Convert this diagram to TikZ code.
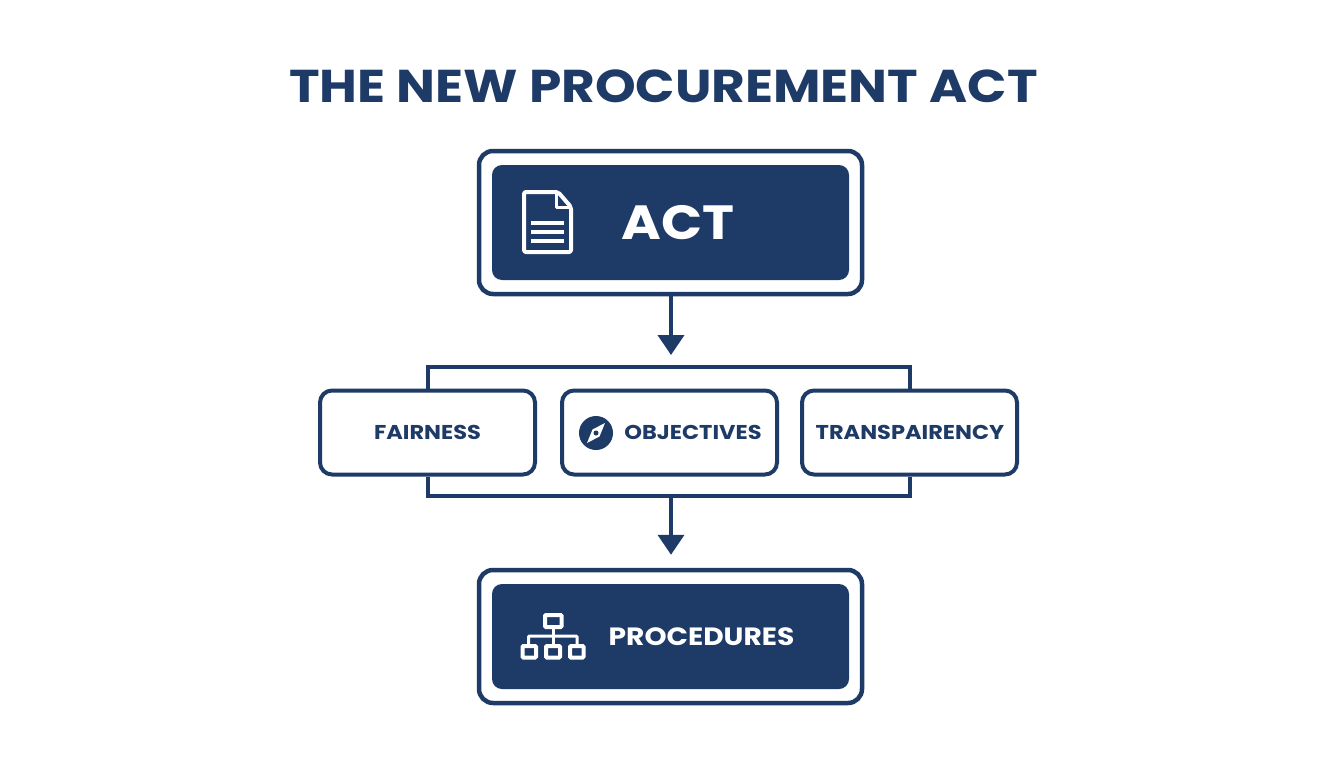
\documentclass[tikz,border=0pt]{standalone}
\usepackage{fontspec}
\setmainfont[FakeStretch=1.125]{Poppins}
\usetikzlibrary{arrows.meta}
\definecolor{navy}{HTML}{1E3A66}
\tikzset{
  x=1pt,y=-1pt,
  framebox/.style={draw=navy,line width=4.5pt,rounded corners=14pt,fill=white,inner sep=0pt},
  solidbox/.style={fill=navy,rounded corners=10pt,inner sep=0pt},
  midbox/.style={draw=navy,line width=4pt,rounded corners=12pt,fill=white,inner sep=0pt,minimum width=215pt,minimum height=84pt},
  midlabel/.style={text=navy,font=\fontsize{20}{24}\selectfont\bfseries,inner sep=0pt},
  wire/.style={draw=navy,line width=4pt},
  flow/.style={wire,-{Triangle[width=26pt,length=20pt]}},
  iconline/.style={draw=white,line width=4pt},
}
\begin{document}
\begin{tikzpicture}
\useasboundingbox (0,0) rectangle (1344,768);
\fill[white] (0,0) rectangle (1344,768);
\node[text=navy,font=\fontsize{46}{50}\selectfont\bfseries,inner sep=0pt] (title) at (663.5,86) {THE NEW PROCUREMENT ACT};
% top
\node[framebox,minimum width=383pt,minimum height=143pt] (actouter) at (670.5,222.5) {};
\node[solidbox,minimum width=357pt,minimum height=115pt] (actinner) at (670.5,222.5) {};
\node[font=\fontsize{48}{54}\selectfont\bfseries,text=white,inner sep=0pt] (actlabel) at (678,222.5) {ACT};
\draw[iconline,rounded corners=2pt,line join=round] (558,192) -- (524,192) -- (524,252) -- (571,252) -- (571,207) -- cycle;
\draw[draw=white,line width=3pt,line join=round] (556,192) -- (556,207) -- (571,207);
\foreach \ya in {223,232,241}{\draw[draw=white,line width=4.5pt] (531,\ya) -- (564,\ya);}
% middle
\node[midbox] (fair) at (427.5,432.5) {};
\node[midbox] (obj) at (669.5,432.5) {};
\node[midbox] (trans) at (909.5,432.5) {};
\coordinate (tiptop) at (671,355);
\coordinate (topbar) at (671,367);
\coordinate (botbar) at (671,496);
\draw[flow] (actouter.south -| tiptop) -- (tiptop);
\draw[wire] (fair.north) -- (fair.north |- topbar) -- (trans.north |- topbar) -- (trans.north);
\draw[wire] (fair.south) -- (fair.south |- botbar) -- (trans.south |- botbar) -- (trans.south);
\node[midlabel] (fairlabel) at (427.5,432) {FAIRNESS};
\node[midlabel] (objlabel) at (693,432) {OBJECTIVES};
\node[midlabel] (translabel) at (910,432) {TRANSPAIRENCY};
\fill[navy] (596,433) circle (17);
\fill[white] (605,423) -- (599.5,436.5) -- (587,443) -- (592.5,429.5) -- cycle;
\fill[navy] (596,433) circle (2.5);
% bottom
\node[framebox,minimum width=383pt,minimum height=133pt] (procouter) at (670.5,636.5) {};
\node[solidbox,minimum width=357pt,minimum height=105pt] (procinner) at (670.5,636.5) {};
\node[text=white,font=\fontsize{25}{30}\selectfont\bfseries,inner sep=0pt] (proclabel) at (701.5,637) {PROCEDURES};
\draw[flow,shorten >=13pt] (botbar) -- (procouter.north -| botbar);
\draw[iconline,rounded corners=1pt] (545,615) rectangle (561.5,627);
\draw[iconline,rounded corners=1pt] (522.5,646) rectangle (536,657.5);
\draw[iconline,rounded corners=1pt] (546,646) rectangle (560,657.5);
\draw[iconline,rounded corners=1pt] (570,646) rectangle (583.5,657.5);
\draw[draw=white,line width=3pt] (553,627) -- (553,645);
\draw[draw=white,line width=3pt,rounded corners=1pt] (528.5,645) -- (528.5,636) -- (577,636) -- (577,645);
\end{tikzpicture}
\end{document}
